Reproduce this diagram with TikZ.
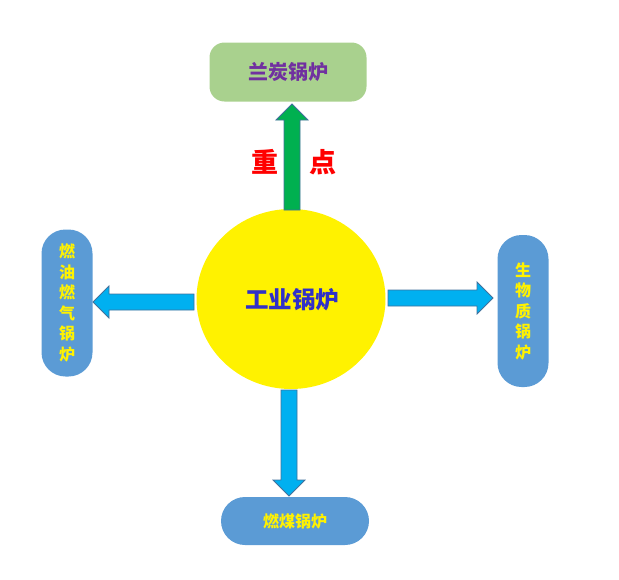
\documentclass[tikz,border=0pt]{standalone}
\usepackage{fontspec}
\setmainfont{Noto Sans CJK SC}
\usetikzlibrary{calc,shapes.geometric}

\definecolor{lantangreen}{RGB}{169,209,142}
\definecolor{lantanpurple}{RGB}{112,48,160}
\definecolor{boxblue}{RGB}{91,155,213}
\definecolor{arrowcyan}{RGB}{0,176,240}
\definecolor{arrowgreen}{RGB}{0,176,80}
\definecolor{edgeblue}{RGB}{65,113,156}
\definecolor{hubblue}{RGB}{48,48,200}

\tikzset{
  fuelbox/.style={fill=boxblue, rounded corners=24pt, text=yellow,
    font=\fontsize{16}{20.5}\selectfont\bfseries, align=center, inner sep=0pt},
  blockarrow/.style={draw=edgeblue, line width=0.8pt, fill=arrowcyan,
    to path={
      ($(\tikztostart)!8pt!90:(\tikztotarget)$)
      -- ($(\tikztotarget)!16pt!(\tikztostart)!8pt!90:(\tikztotarget)$)
      -- ($(\tikztotarget)!16pt!(\tikztostart)!16pt!90:(\tikztotarget)$)
      -- (\tikztotarget)
      -- ($(\tikztotarget)!16pt!(\tikztostart)!16pt!-90:(\tikztotarget)$)
      -- ($(\tikztotarget)!16pt!(\tikztostart)!8pt!-90:(\tikztotarget)$)
      -- ($(\tikztostart)!8pt!-90:(\tikztotarget)$)
      -- cycle}}
}

\begin{document}
\begin{tikzpicture}[x=1pt, y=-1pt]
  \useasboundingbox (0,0) rectangle (619,579);

  % centre
  \node[ellipse, fill=yellow, minimum width=189pt, minimum height=180pt,
    inner sep=0pt] (hub) at (291,299) {};
  \node[text=hubblue, font=\fontsize{23.5}{26}\selectfont\bfseries]
    (hubtext) at (292,300) {工业锅炉};

  % boilers
  \node[fill=lantangreen, rounded corners=15pt, minimum width=157pt,
    minimum height=59pt, text=lantanpurple,
    font=\fontsize{20}{24}\selectfont\bfseries] (lantan) at (288,72) {兰炭锅炉};

  \node[fuelbox, minimum width=51pt, minimum height=147pt]
    (oilgas) at (67,303) {燃\\油\\燃\\气\\锅\\炉};

  \node[fuelbox, minimum width=51pt, minimum height=152pt]
    (biomass) at (523,311) {生\\物\\质\\锅\\炉};

  \node[fuelbox, minimum width=148pt, minimum height=48pt]
    (coal) at (295,521) {燃煤锅炉};

  % arrows
  \coordinate (upfoot) at (292,210);
  \coordinate (uptip) at (292,104);
  \draw[blockarrow, fill=arrowgreen] (upfoot) to (uptip);

  \coordinate (leftfoot) at (194,302);
  \coordinate (lefttip) at (93,302);
  \draw[blockarrow] (leftfoot) to (lefttip);

  \coordinate (rightfoot) at (388,298);
  \coordinate (righttip) at (493,298);
  \draw[blockarrow] (rightfoot) to (righttip);

  \coordinate (downfoot) at (289,390);
  \coordinate (downtip) at (289,496);
  \draw[blockarrow] (downfoot) to (downtip);

  % key route
  \node[text=red, font=\fontsize{27}{30}\selectfont\bfseries] (keyA) at (265,162) {重};
  \node[text=red, font=\fontsize{27}{30}\selectfont\bfseries] (keyB) at (323,162) {点};
\end{tikzpicture}
\end{document}
